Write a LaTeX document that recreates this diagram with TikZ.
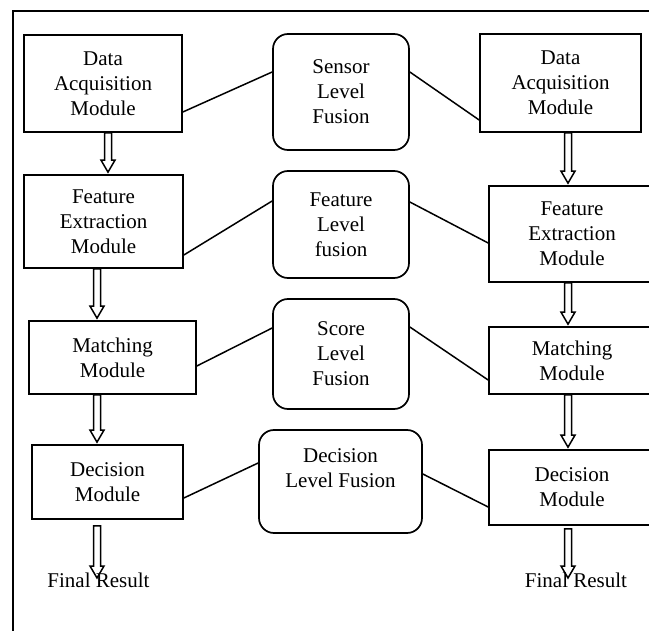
\documentclass[tikz,border=0pt]{standalone}
\usepackage{fontspec}
\setmainfont{Liberation Serif}
\usetikzlibrary{calc}

% hollow block arrow pointing down, x taken from the start point
\newcommand{\blockarrow}[2]{%
  \draw[blockarr] let \p1=(#1), \p2=(#2) in
    (\x1-3.5pt,\y1) -- (\x1-3.5pt,\y2+14pt) -- (\x1-7pt,\y2+14pt) -- (\x1,\y2+2pt)
    -- (\x1+7pt,\y2+14pt) -- (\x1+3.5pt,\y2+14pt) -- (\x1+3.5pt,\y1) -- cycle;}

\begin{document}
\begin{tikzpicture}[
    x=1pt, y=-1pt,
    modbox/.style={rectangle, draw, line width=1.7pt, inner sep=0pt, align=center, font=\fontsize{21}{25}\selectfont},
    fusbox/.style={modbox, rounded corners=15pt},
    restext/.style={inner sep=0pt, font=\fontsize{21}{25}\selectfont},
    link/.style={line width=1.5pt},
    blockarr/.style={line width=1.5pt, line join=miter}
]
\useasboundingbox (0,0) rectangle (649,631);
\clip (0,0) rectangle (649,631);
\draw[line width=1.7pt] (13,660) |- (670,11);

% left chain
\node[modbox, minimum width=158pt, minimum height=97pt] (da1) at (103,83.5) {Data\\Acquisition\\Module};
\node[modbox, minimum width=159pt, minimum height=93pt] (fe1) at (103.5,221.5) {Feature\\Extraction\\Module};
\node[modbox, minimum width=167pt, minimum height=73pt] (ma1) at (112.5,357.5) {Matching\\Module};
\node[modbox, minimum width=151pt, minimum height=74pt] (de1) at (107.5,482) {Decision\\Module};
\node[restext] (fr1) at (98.5,580) {Final Result};

% fusion levels
\node[fusbox, minimum width=136pt, minimum height=116pt] (sensor) at (341,92) {Sensor\\Level\\Fusion};
\node[fusbox, minimum width=136pt, minimum height=107pt] (featfus) at (341,224.5) {Feature\\Level\\fusion};
\node[fusbox, minimum width=136pt, minimum height=110pt] (score) at (341,354) {Score\\Level\\Fusion};
\node[fusbox, minimum width=163pt, minimum height=103pt, text depth=27pt] (decfus) at (340.5,481.5) {Decision\\Level Fusion};

% right chain
\node[modbox, minimum width=161pt, minimum height=98pt] (da2) at (560.5,83) {Data\\Acquisition\\Module};
\node[modbox, minimum width=166pt, minimum height=96pt] (fe2) at (572,234) {Feature\\Extraction\\Module};
\node[modbox, minimum width=166pt, minimum height=67pt] (ma2) at (572,360.5) {Matching\\Module};
\node[modbox, minimum width=166pt, minimum height=75pt] (de2) at (572,487.5) {Decision\\Module};
\node[restext] (fr2) at (576,580) {Final Result};

% links to the fusion boxes
\draw[link] ([yshift=-28.5pt]da1.east) -- ([yshift=20pt]sensor.west);
\draw[link] ([yshift=20pt]sensor.east) -- ([yshift=-37pt]da2.west);
\draw[link] ([yshift=-33.5pt]fe1.east) -- ([yshift=23.5pt]featfus.west);
\draw[link] ([yshift=22.5pt]featfus.east) -- ([yshift=-9pt]fe2.west);
\draw[link] ([yshift=-8.5pt]ma1.east) -- ([yshift=26pt]score.west);
\draw[link] ([yshift=27pt]score.east) -- ([yshift=-19.5pt]ma2.west);
\draw[link] ([yshift=-16pt]de1.east) -- ([yshift=18.5pt]decfus.west);
\draw[link] ([yshift=7.5pt]decfus.east) -- ([yshift=-19.5pt]de2.west);

% flow arrows
\blockarrow{$(da1.south)+(5,0)$}{fe1.north}
\blockarrow{$(fe1.south)+(-6.5,0)$}{ma1.north}
\blockarrow{$(ma1.south)+(-15.5,0)$}{de1.north}
\blockarrow{$(de1.south)+(-10.5,6)$}{fr1.center}
\blockarrow{$(da2.south)+(7.5,0)$}{fe2.north}
\blockarrow{$(fe2.south)+(-4,0)$}{ma2.north}
\blockarrow{$(ma2.south)+(-4,0)$}{de2.north}
\blockarrow{$(de2.south)+(-4,3)$}{fr2.center}
\end{tikzpicture}
\end{document}
